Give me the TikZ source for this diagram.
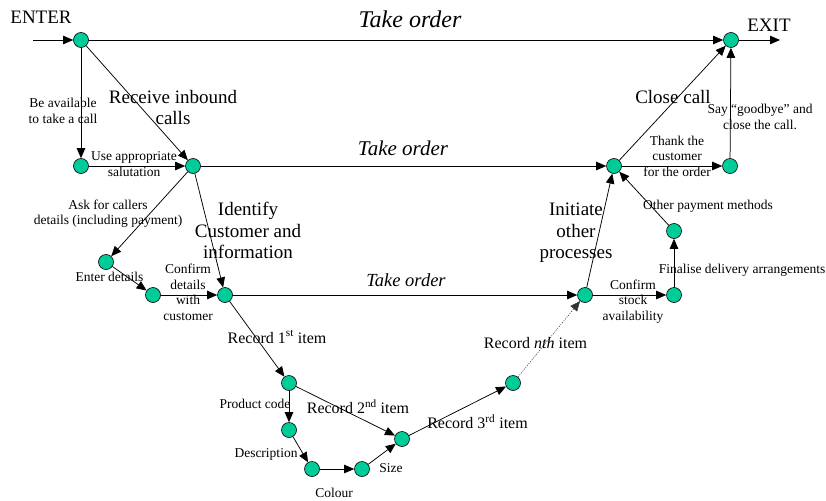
\documentclass[tikz,border=0pt]{standalone}
\usepackage{fontspec}
\setmainfont{Liberation Serif}
\usetikzlibrary{arrows.meta}
\definecolor{dotgreen}{RGB}{0,204,153}
\tikzset{every picture/.style={line width=0.75pt}}
\tikzset{
  dot/.style={circle,draw,fill=dotgreen,minimum size=15pt,inner sep=0pt,line width=0.6pt},
  flow/.style={-{Triangle[length=10pt,width=8.5pt]}},
  small/.style={font=\fontsize{13.5}{15.5}\selectfont,align=center},
  mid/.style={font=\fontsize{16}{18}\selectfont,align=center},
  big/.style={font=\fontsize{19}{21.5}\selectfont,align=center},
}

\begin{document}
\begin{tikzpicture}[x=1pt,y=-1pt]
        \useasboundingbox (0,0) rectangle (826,500);
        % stations
        \node[dot] (start) at (81,40) {};
        \node[dot] (finish) at (731,40) {};
        \node[dot] (avail) at (81,166) {};
        \node[dot] (greet) at (193,166) {};
        \node[dot] (order) at (614,166) {};
        \node[dot] (thank) at (730,166) {};
        \node[dot] (enter) at (106,262) {};
        \node[dot] (check) at (153,295) {};
        \node[dot] (ident) at (225,295) {};
        \node[dot] (other) at (585,295) {};
        \node[dot] (stock) at (674,295) {};
        \node[dot] (deliv) at (674,231) {};
        \node[dot] (item1) at (289,383) {};
        \node[dot] (code) at (289,430) {};
        \node[dot] (descr) at (312,469) {};
        \node[dot] (colour) at (362,469) {};
        \node[dot] (item2) at (402,439) {};
        \node[dot] (itemn) at (513,383) {};
        \coordinate (in) at (33,40);
        \coordinate (out) at (780,40);
        % connectors
        \draw[flow] (in) -- (start);
        \draw[flow] (start) -- (finish);
        \draw[flow] (finish) -- (out);
        \draw[flow] (start) -- (avail);
        \draw[flow] (start) -- (greet);
        \draw[flow] (avail) -- (greet);
        \draw[flow] (greet) -- (order);
        \draw[flow] (order) -- (finish);
        \draw[flow] (order) -- (thank);
        \draw[flow] (thank) -- (finish);
        \draw[flow] (greet) -- (enter);
        \draw[flow] (greet) -- (ident);
        \draw[flow] (enter) -- (check);
        \draw[flow] (check) -- (ident);
        \draw[flow] (ident) -- (other);
        \draw[flow] (other) -- (order);
        \draw[flow] (other) -- (stock);
        \draw[flow] (stock) -- (deliv);
        \draw[flow] (deliv) -- (order);
        \draw[flow] (ident) -- (item1);
        \draw[flow] (item1) -- (code);
        \draw[flow] (item1) -- (item2);
        \draw[flow] (code) -- (descr);
        \draw[flow] (descr) -- (colour);
        \draw[flow] (colour) -- (item2);
        \draw[flow] (item2) -- (itemn);
        \draw[flow,black!80,dash pattern=on 1.2pt off 1.2pt,line width=0.5pt] (itemn) -- (other);
        % labels
        \node[big] (tenter) at (41,17.5) {ENTER};
        \node[big] (texit) at (769,25) {EXIT};
        \node[font=\fontsize{24}{26}\selectfont\itshape] (ttake1) at (410,19.5) {Take order};
        \node[font=\fontsize{21}{23}\selectfont\itshape] (ttake2) at (403,148.5) {Take order};
        \node[font=\fontsize{18.5}{20}\selectfont\itshape] (ttake3) at (406,280.5) {Take order};
        \node[big] (trecv) at (173,107.5) {Receive inbound\\calls};
        \node[small] (tavail) at (63,111) {Be available\\to take a call};
        \node[small] (tgreet) at (134,164) {Use appropriate\\salutation};
        \node[big] (tclose) at (673,97) {Close call};
        \node[small] (tthank) at (677,156) {Thank the\\customer\\for the order};
        \node[small] (tbye) at (760,117) {Say “goodbye” and\\close the call.};
        \node[small] (task) at (108,213.5) {Ask for callers\\details (including payment)};
        \node[big] (tident) at (248,230.5) {Identify\\Customer and\\information};
        \node[small] (tenterd) at (109.5,276.5) {Enter details};
        \node[small] (tcheck) at (188,292.5) {Confirm\\details\\with\\customer};
        \node[big] (tother) at (576,233) {Initiate\\other\\processes};
        \node[small] (tstock) at (633,301.5) {Confirm\\stock\\availability};
        \node[small] (tdeliv) at (742,270.5) {Finalise delivery arrangements};
        \node[small] (tpay) at (708,206) {Other payment methods};
        \node[mid] (titem1) at (277,337) {Record 1\textsuperscript{st} item};
        \node[small] (tcode) at (255,404) {Product code};
        \node[mid] (titem2) at (358,406.7) {Record 2\textsuperscript{nd} item};
        \node[small] (tdescr) at (266,454) {Description};
        \node[small] (tcolour) at (334,492.5) {Colour};
        \node[small] (tsize) at (391,468) {Size};
        \node[mid] (titem3) at (477.5,422) {Record 3\textsuperscript{rd} item};
        \node[mid] (titemn) at (535.5,343) {Record \textit{nth} item};
\end{tikzpicture}
\end{document}
